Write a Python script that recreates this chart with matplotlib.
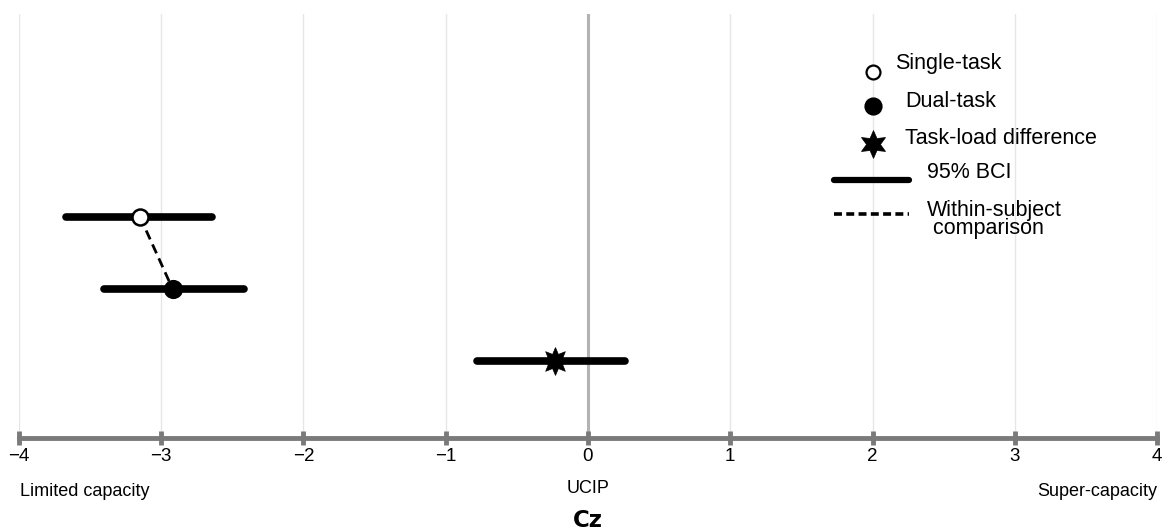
import matplotlib
matplotlib.use("Agg")
import matplotlib.pyplot as plt
from matplotlib.path import Path
import numpy as np

plt.rcParams['font.family'] = ['Liberation Sans', 'DejaVu Sans']

# capacity estimates (Cz) with 95% Bayesian credible intervals
conditions = ['Single-task', 'Dual-task', 'Task-load difference']
estimates = [-3.15, -2.92, -0.23]
ci_low = [-3.67, -3.40, -0.78]
ci_high = [-2.64, -2.42, 0.26]
rows = [3, 2, 1]

ticks = [-4, -3, -2, -1, 0, 1, 2, 3, 4]
tick_labels = ['\u22124', '\u22123', '\u22122', '\u22121', '0', '1', '2', '3', '4']


def star_marker(n, inner):
    ang = np.pi / 2 + np.arange(2 * n) * np.pi / n
    rad = np.where(np.arange(2 * n) % 2 == 0, 1.0, inner)
    verts = np.column_stack([rad * np.cos(ang), rad * np.sin(ang)])
    verts = np.vstack([verts, verts[:1]])
    codes = [Path.MOVETO] + [Path.LINETO] * (2 * n - 1) + [Path.CLOSEPOLY]
    return Path(verts, codes)


star8 = star_marker(8, 0.55)
star6 = star_marker(6, 0.5)
markers = ['o', 'o', star8]
faces = ['white', 'black', 'black']
sizes = [11.5, 12, 20]

fig = plt.figure(figsize=(11.64, 5.32), dpi=100)
ax = fig.add_axes([0.0163, 0.1767, 0.9777, 0.797])
ax.set_xlim(-4, 4)
ax.set_ylim(-0.06, 5.8)

for t in ticks:
    if t == 0:
        ax.axvline(t, color='#b3b3b3', lw=2.2, zorder=1)
    else:
        ax.axvline(t, color='#e6e6e6', lw=1, zorder=1)

# within-subject link between single and dual task
ax.plot(estimates[:2], rows[:2], color='black', lw=2, ls=(0, (3.5, 2)), zorder=2)

for est, lo, hi, r, m, fc, ms in zip(estimates, ci_low, ci_high, rows, markers, faces, sizes):
    ax.plot([lo, hi], [r, r], color='black', lw=5.5, solid_capstyle='round', zorder=3)
    ax.plot(est, r, marker=m, ms=ms, mfc=fc, mec='black', mew=1.8 if m == 'o' else 0.5,
            ls='none', zorder=4)

# hand-built legend
leg_y = [5.0, 4.53, 4.0]
leg_markers = ['o', 'o', star6]
leg_sizes = [10, 11.5, 20]
leg_text_x = [2.16, 2.23, 2.23]
leg_text_y = [5.11, 4.59, 4.08]
for y, tx, ty, m, fc, ms, lab in zip(leg_y, leg_text_x, leg_text_y, leg_markers, faces,
                                     leg_sizes, conditions):
    ax.plot(2, y, marker=m, ms=ms, mfc=fc, mec='black', mew=1.6 if m == 'o' else 0.5,
            ls='none', zorder=4)
    ax.text(tx, ty, lab, fontsize=15.5, va='center', ha='left')
ax.plot([1.73, 2.26], [3.51, 3.51], color='black', lw=4.5, solid_capstyle='round')
ax.text(2.38, 3.61, '95% BCI', fontsize=15.5, va='center', ha='left')
ax.plot([1.73, 2.26], [3.03, 3.03], color='black', lw=2.6, ls=(0, (2.2, 1.2)))
ax.text(2.38, 2.96, 'Within-subject\n comparison', fontsize=15.5, va='center', ha='left',
        linespacing=0.8)

for s in ['top', 'right', 'left']:
    ax.spines[s].set_visible(False)
ax.spines['bottom'].set_color('#7a7a7a')
ax.spines['bottom'].set_linewidth(3.5)
ax.spines['bottom'].set_position(('data', -0.06))
ax.set_yticks([])
ax.set_xticks(ticks)
ax.set_xticklabels(tick_labels, fontsize=13.5)
ax.tick_params(axis='x', direction='inout', length=10, width=3.5, color='#7a7a7a', pad=2)

fig.text(0.0172, 0.077, 'Limited capacity', fontsize=13, ha='left', va='center')
fig.text(0.505, 0.082, 'UCIP', fontsize=13, ha='center', va='center')
fig.text(0.994, 0.077, 'Super-capacity', fontsize=13, ha='right', va='center')
fig.text(0.505, 0.021, 'Cz', fontsize=16.5, fontweight='bold', ha='center', va='center',
         family=['DejaVu Sans'])

fig.savefig('out.png', dpi=100)
